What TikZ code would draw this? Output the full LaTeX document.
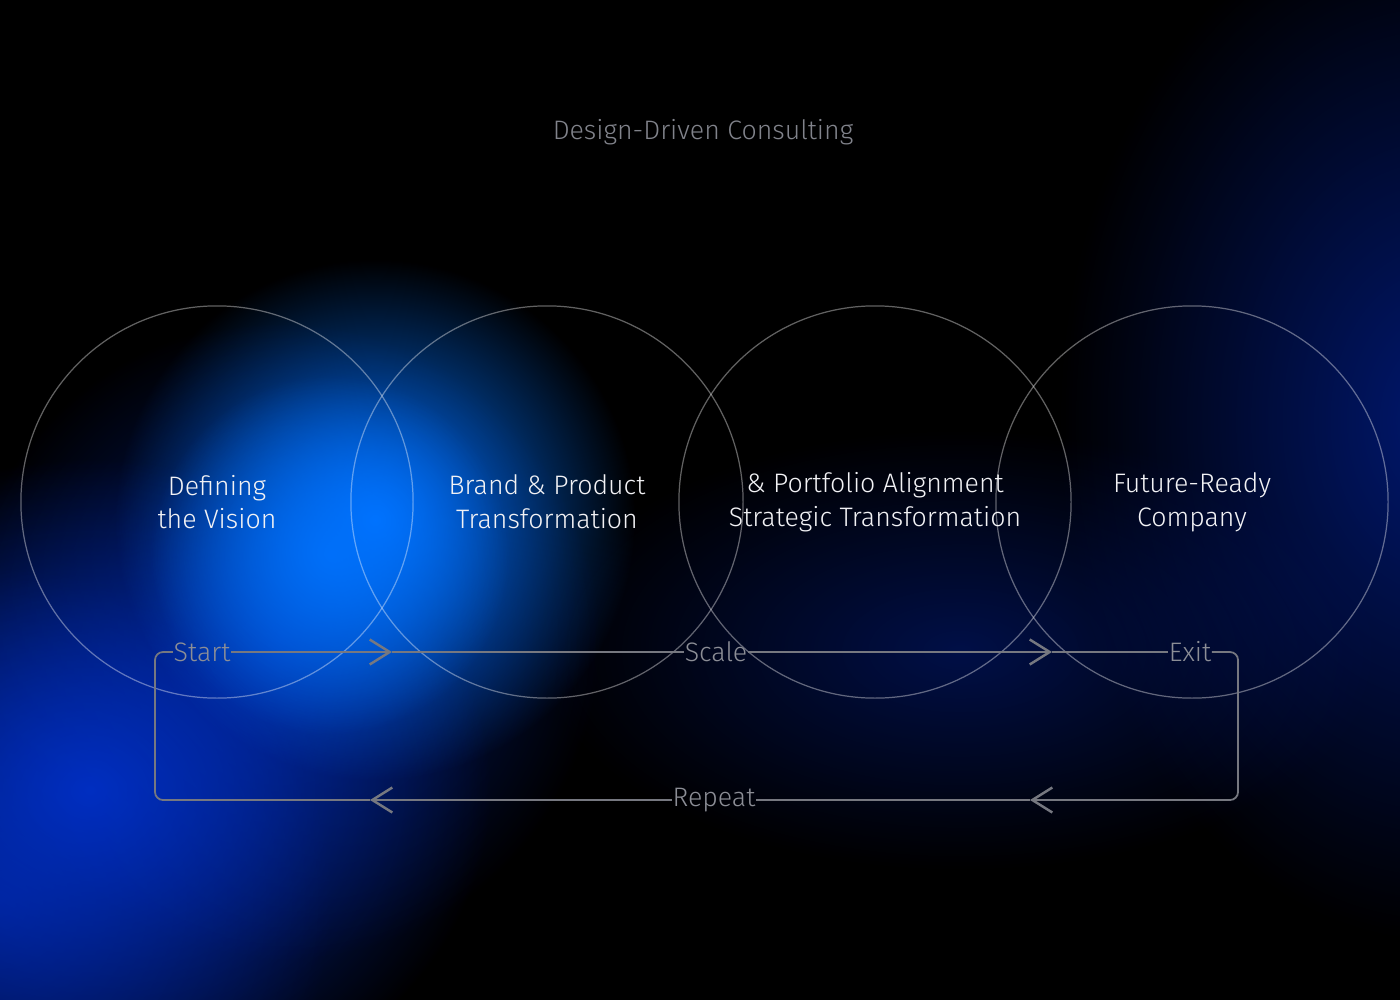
\documentclass[tikz,border=0pt]{standalone}
\usepackage{fontspec}
\setmainfont{Fira Sans}[UprightFont={* Light}]
\usetikzlibrary{positioning,arrows.meta,fadings}
\definecolor{glowcore} {RGB}{  0,115,255}
\definecolor{glowdeep} {RGB}{  0, 50,205}
\definecolor{glownavy} {RGB}{  0, 28,130}
\definecolor{lightink} {RGB}{242,242,245}
\definecolor{dimink}   {RGB}{140,142,150}
\definecolor{loopgray} {RGB}{118,120,128}
\tikzfading[name=glowfade, inner color=transparent!0, outer color=transparent!100]
\tikzset{%
  glow/.style = {
    fill = #1,
    path fading = glowfade,
  },
  stage/.style = {
    circle,
    draw = white,
    draw opacity = 0.38,
    line width = 0.35pt,
    minimum size = 3.92cm,
    align = center,
    text = lightink,
    font = \fontsize{7.6}{9.6}\selectfont,
  },
  steplabel/.style = {
    inner sep = 0pt,
    text = dimink,
    font = \fontsize{7.6}{9.6}\selectfont,
  },
  loopline/.style = {
    draw = loopgray,
    line width = 0.5pt,
    rounded corners = 0.08cm,
  },
  chevtip/.style = {
    -{Straight Barb[length=0.2cm, width=0.25cm, line width=0.7pt]},
  },
}

\begin{document}
\begin{tikzpicture}[x=0.01cm, y=-0.01cm]
  \useasboundingbox (0,0) rectangle (1400,1000);
  \fill[black] (0,0) rectangle (1400,1000);
  % background glows
  \fill[glow=glownavy, opacity=0.85] (1440,420) ellipse (380 and 520);
  \fill[glow=glownavy, opacity=0.55] (960,650) ellipse (420 and 220);
  \fill[glow=glownavy, opacity=0.9] (0,900) ellipse (330 and 330);
  \fill[glow=glowdeep, opacity=0.9] (90,790) ellipse (400 and 330);
  \fill[glow=glowdeep, opacity=0.6] (280,640) ellipse (320 and 320);
  \fill[glow=glowcore] (375,520) ellipse (260 and 260);
  \fill[glow=glowcore, opacity=0.85] (330,555) ellipse (180 and 180);

  % stages
  \node[stage] (vision) at (217,502) {Defining\\the Vision};
  \node[stage] (brand) at (547,502) {Brand \& Product\\Transformation};
  \node[stage] (strategy) at (875,502) {\& Portfolio Alignment\\Strategic Transformation};
  \node[stage] (future) at (1192,502) {Future-Ready\\Company};

  \node[steplabel, text=dimink!110] (title) at (703,132) {Design-Driven Consulting};

  % loop
  \coordinate (sw) at (155,800);
  \coordinate (se) at (1238,800);
  \coordinate (chevA) at (392,652);
  \coordinate (chevB) at (1052,652);
  \coordinate (chevC) at (370,800);
  \coordinate (chevD) at (1030,800);
  \node[steplabel] (start) at (202,652) {Start};
  \node[steplabel] (scale) at (716,652) {Scale};
  \node[steplabel] (exit) at (1190,652) {Exit};
  \node[steplabel] (repeat) at (714,800) {Repeat};

  \draw[loopline] (start.west) -| (sw) -- (chevC);
  \draw[loopline, chevtip] (start.east) -- (chevA);
  \draw[loopline] (chevA) -- (scale.west);
  \draw[loopline, chevtip] (scale.east) -- (chevB);
  \draw[loopline] (chevB) -- (exit.west);
  \draw[loopline, chevtip] (exit.east) -| (se) -- (chevD);
  \draw[loopline] (chevD) -- (repeat.east);
  \draw[loopline, chevtip] (repeat.west) -- (chevC);
\end{tikzpicture}
\end{document}
